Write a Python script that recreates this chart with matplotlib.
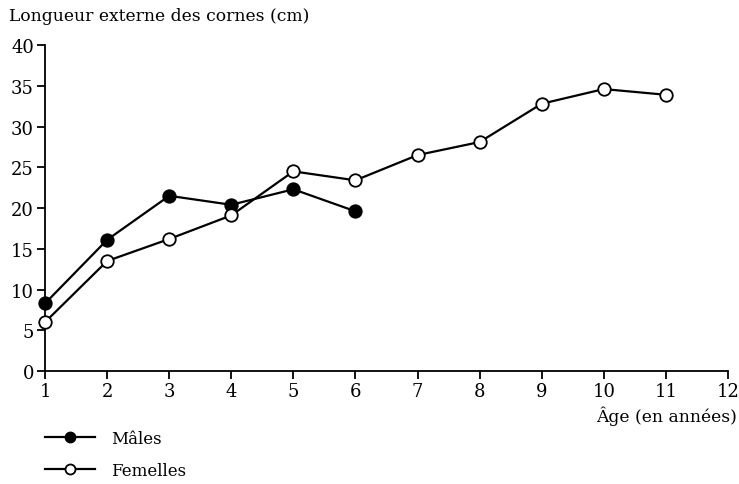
import numpy as np
import matplotlib
matplotlib.use("Agg")
import matplotlib.pyplot as plt

# données
ages_m = [1, 2, 3, 4, 5, 6]
males = [8.3, 16.1, 21.5, 20.4, 22.3, 19.6]
ages_f = [1, 2, 3, 4, 5, 6, 7, 8, 9, 10, 11]
femelles = [6.0, 13.5, 16.2, 19.1, 24.5, 23.4, 26.5, 28.1, 32.8, 34.6, 33.9]

xticks = list(range(1, 13))
yticks = list(range(0, 45, 5))

plt.rcParams['font.family'] = ['DejaVu Serif']
plt.rcParams['font.size'] = 12

fig = plt.figure(figsize=(7.39, 4.85), dpi=100)
ax = fig.add_axes([0.061, 0.233, 0.924, 0.672])

ax.plot(ages_m, males, color='black', lw=1.6, marker='o', ms=9,
        mfc='black', mec='black', mew=1.3, clip_on=False, label='Mâles', zorder=3)
ax.plot(ages_f, femelles, color='black', lw=1.6, marker='o', ms=9,
        mfc='white', mec='black', mew=1.3, clip_on=False, label='Femelles', zorder=3)

ax.set_xlim(1, 12)
ax.set_ylim(0, 40)
ax.set_xticks(xticks)
ax.set_yticks(yticks)
for s in ['top', 'right']:
    ax.spines[s].set_visible(False)
for s in ['left', 'bottom']:
    ax.spines[s].set_linewidth(1.3)
ax.tick_params(direction='out', length=6, width=1.3, labelsize=13, pad=2)

fig.text(0.012, 0.965, 'Longueur externe des cornes (cm)', ha='left', va='center', fontsize=12.3)
fig.text(0.997, 0.142, 'Âge (en années)', ha='right', va='center', fontsize=12.3)

fig.legend(loc='upper left', bbox_to_anchor=(0.052, 0.125), frameon=False,
           handlelength=3.0, labelspacing=0.9, handletextpad=0.95, borderaxespad=0,
           markerscale=0.8, fontsize=12)

fig.savefig('out.png', dpi=100)
